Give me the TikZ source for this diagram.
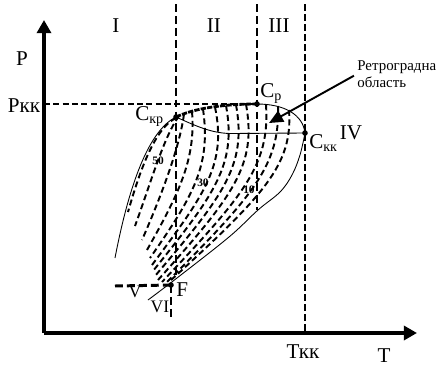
\documentclass[tikz,border=0pt]{standalone}
\usepackage{fontspec}
\setmainfont{Liberation Serif}
\usetikzlibrary{arrows.meta}

\begin{document}
\begin{tikzpicture}[x=0.02cm, y=-0.02cm, font=\fontsize{12}{14}\selectfont,
    axis/.style={line width=2pt, -{Triangle[length=7.5pt,width=8pt]}},
    zone/.style={line width=1.7pt, dash pattern=on 4.5pt off 2.3pt},
    qline/.style={line width=1.1pt, dash pattern=on 3.4pt off 2pt},
    env/.style={line width=0.5pt},
    spot/.style={circle, fill, inner sep=0pt, minimum size=3.2pt},
    qlabel/.style={font=\fontsize{6.5}{7}\selectfont\bfseries, inner sep=1pt}]
  \useasboundingbox (0,0) rectangle (444,373);

  \coordinate (O) at (44,333);
  \coordinate (Ptop) at (44,20);
  \coordinate (Tend) at (417,333);
  \coordinate (Ckr) at (176,117);
  \coordinate (Cp) at (257,104);
  \coordinate (Ckk) at (305,133);
  \coordinate (F) at (171,285);

  % dashed iso lines
  \foreach \sx/\sy/\ax/\ay/\bx/\by/\ex/\ey in {
      176/118/155/128/140/170/128/212,
      179/116/164/136/150/185/135/226,
      184/114/180/145/163/192/142/240,
      192/111.5/196/160/178/195/147/250,
      203/109/211/165/194/195/150/258,
      215/107/227/165/204/195/152/265,
      226/105.5/237/165/214/195/153/271,
      236/104.8/247/165/224/195/155/276,
      246/104.3/257/165/234/195/158/280,
      266/104.5/270/165/244/195/162/282,
      278/106/280/165/254/195/166/283,
      289/110/293/165/264/195/170/281}{
    \draw[qline] (\sx,\sy) .. controls (\ax,\ay) and (\bx,\by) .. (\ex,\ey);
  }

  % envelope
  \draw[env] (Ckr) .. controls (150,130) and (130,180) .. (115,258);
  \draw[env] (Cp) .. controls (285,104) and (303,115) .. (Ckk);
  \draw[env] plot[smooth, tension=0.6] coordinates {(Ckk) (300,155) (292,175) (280,192) (258,210) (229,237) (177,278) (148,300)};
  \draw[env] (Ckr) .. controls (198,127) and (212,133) .. (230,133.5) -- (Ckk);

  % zones
  \draw[zone] (176,4) -- (176,278);
  \draw[zone] (F) -- (171,320);
  \draw[zone, line width=1.4pt] (257,4) -- (257,210);
  \draw[zone, line width=1pt, dash pattern=on 3.8pt off 1.9pt] (305,4) -- (305,333);
  \draw[line width=1.1pt, dash pattern=on 3.4pt off 1.9pt] (44,104) -- (Cp);
  \draw[zone] (115,286) coordinate (Vend) -- (F);
  \draw[line width=1.6pt, dash pattern=on 3pt off 0.7pt] (Ckr) .. controls (195,108) and (225,104) .. (Cp);

  \draw[axis] (O) -- (Ptop);
  \draw[axis] (O) -- (Tend);

  \foreach \p in {Ckr, Cp, Ckk, F}
    \node[spot] at (\p) {};

  % labels
  \node[anchor=base] (lP) at (22,65) {P};
  \node[anchor=base] (lPkk) at (24,112) {Ркк};
  \node[anchor=base] (lTkk) at (303,358) {Ткк};
  \node[anchor=base] (lT) at (384,362) {T};
  \node[anchor=base] (zI) at (116,32) {I};
  \node[anchor=base] (zII) at (214,32) {II};
  \node[anchor=base] (zIII) at (279,32) {III};
  \node[anchor=base] (zIV) at (351,139) {IV};
  \node[anchor=base, font=\fontsize{10}{12}\selectfont] (zV) at (135,297) {V};
  \node[anchor=base, font=\fontsize{10}{12}\selectfont] (zVI) at (160,312) {VI};
  \node[anchor=base west, inner sep=0pt] (lCkr) at (135,120) {C\textsubscript{кр}};
  \node[anchor=base west, inner sep=0pt] (lCp) at (260,97) {C\textsubscript{р}};
  \node[anchor=base west, inner sep=0pt] (lCkk) at (309,148) {C\textsubscript{кк}};
  \node[anchor=base west, inner sep=0pt] (lF) at (176,296) {F};
  \node[qlabel] (n50) at (158,161) {50};
  \node[qlabel] (n30) at (203,183) {30};
  \node[qlabel] (n10) at (249,190) {10};

  \node[anchor=west, align=left, inner sep=0pt, font=\fontsize{8.5}{9.8}\selectfont] (retro) at (357,74) {Ретроградна\\область};
  \coordinate (rtip) at (269,123);
  \draw[line width=1.1pt, -{Triangle[length=8pt,width=7pt]}, shorten <=2pt] (retro.west) -- (rtip);
\end{tikzpicture}
\end{document}
